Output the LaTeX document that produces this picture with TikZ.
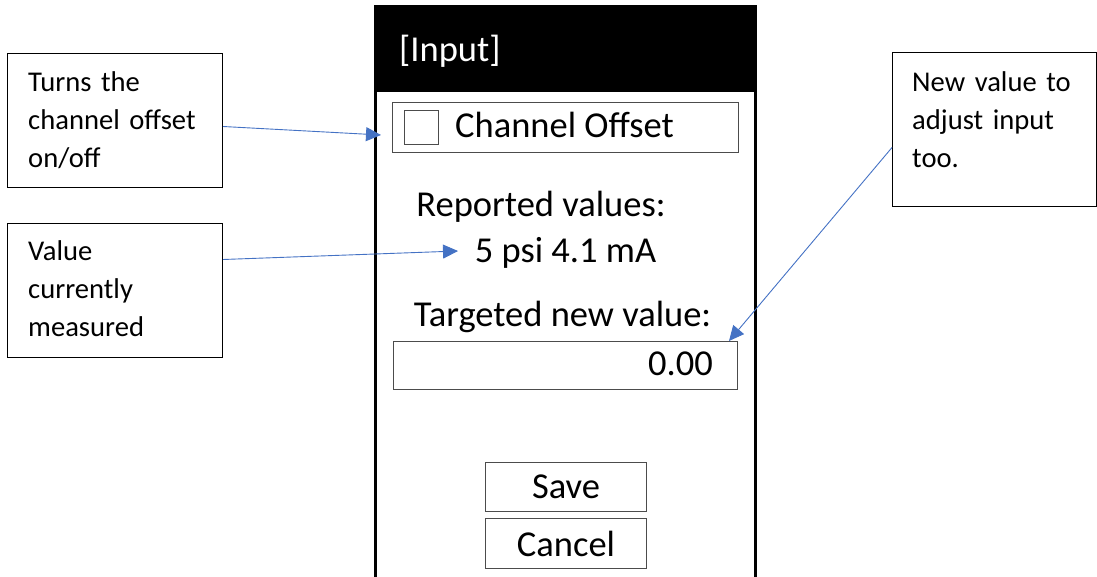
\documentclass[tikz,border=0pt]{standalone}
\usepackage{fontspec}
\setmainfont{Carlito}
\usetikzlibrary{arrows.meta}
\definecolor{arrowblue}{HTML}{4472C4}
\begin{document}
\begin{tikzpicture}[x=1pt,y=-1pt,
  sidebox/.style={draw=black, line width=1pt, minimum width=215pt, minimum height=134pt, anchor=north west, inner sep=0pt},
  sidetext/.style={font=\fontsize{28.6}{38}\selectfont, align=left, text width=200pt, anchor=base west, inner sep=0pt},
  uitext/.style={font=\fontsize{36.5}{40}\selectfont, inner sep=0pt},
  uibox/.style={draw=black!70, line width=1pt, anchor=north west, inner sep=0pt},
  callout/.style={draw=arrowblue, line width=0.9pt, -{Triangle[length=15pt,width=14pt]}, fill=none}
]
\useasboundingbox (0,0) rectangle (1097,577);
% phone frame
\node[fill=black, minimum width=383pt, minimum height=87pt, anchor=north west, inner sep=0pt] (header) at (374,5) {};
\draw[line width=3pt] (375.5,580) -- (375.5,6.5) -- (755.5,6.5) -- (755.5,580);
\node[uitext, text=white, anchor=base west] (title) at (399,62) {[Input]};
% checkbox row
\node[uibox, minimum width=346pt, minimum height=50pt] (row) at (392,102) {};
\node[uibox, minimum width=34pt, minimum height=34pt] (chk) at (404,110) {};
\node[uitext, anchor=base west] (chlabel) at (455,138) {Channel Offset};
% reported values
\node[uitext, anchor=base] (rep) at (541,217) {Reported values:};
\node[uitext, anchor=base] (meas) at (565.5,262) {5 psi 4.1 mA};
% target
\node[uitext, anchor=base] (tgt) at (562.5,326) {Targeted new value:};
\node[uibox, minimum width=344pt, minimum height=48pt] (valbox) at (393,341) {};
\node[uitext, anchor=base east] (val) at (713,375) {0.00};
% buttons
\node[uibox, uitext, minimum width=161pt, minimum height=49pt, anchor=north west] (save) at (485,462) {Save};
\node[uibox, uitext, minimum width=161pt, minimum height=50pt, anchor=north west] (cancel) at (485,518) {Cancel};
% side notes
\node[sidebox] (b1) at (7,53) {};
\node[sidetext] (t1) at (28,92) {Turns the\\channel offset\\on/off};
\node[sidebox] (b2) at (7,223) {};
\node[sidetext] (t2) at (28,261) {Value\\currently\\measured};
\node[sidebox, minimum width=204pt, minimum height=154pt] (b3) at (892,52) {};
\node[sidetext, text width=180pt] (t3) at (912,92) {New value to\\adjust input\\too.};
% callouts
\coordinate (tip1) at (381,135);
\coordinate (tip2) at (458,251);
\coordinate (tip3) at (729,341);
\draw[callout] ([yshift=-6pt]b1.east) -- (tip1);
\draw[callout] ([yshift=31pt]b2.east) -- (tip2);
\draw[callout] ([yshift=-18pt]b3.west) -- (tip3);
\end{tikzpicture}
\end{document}
